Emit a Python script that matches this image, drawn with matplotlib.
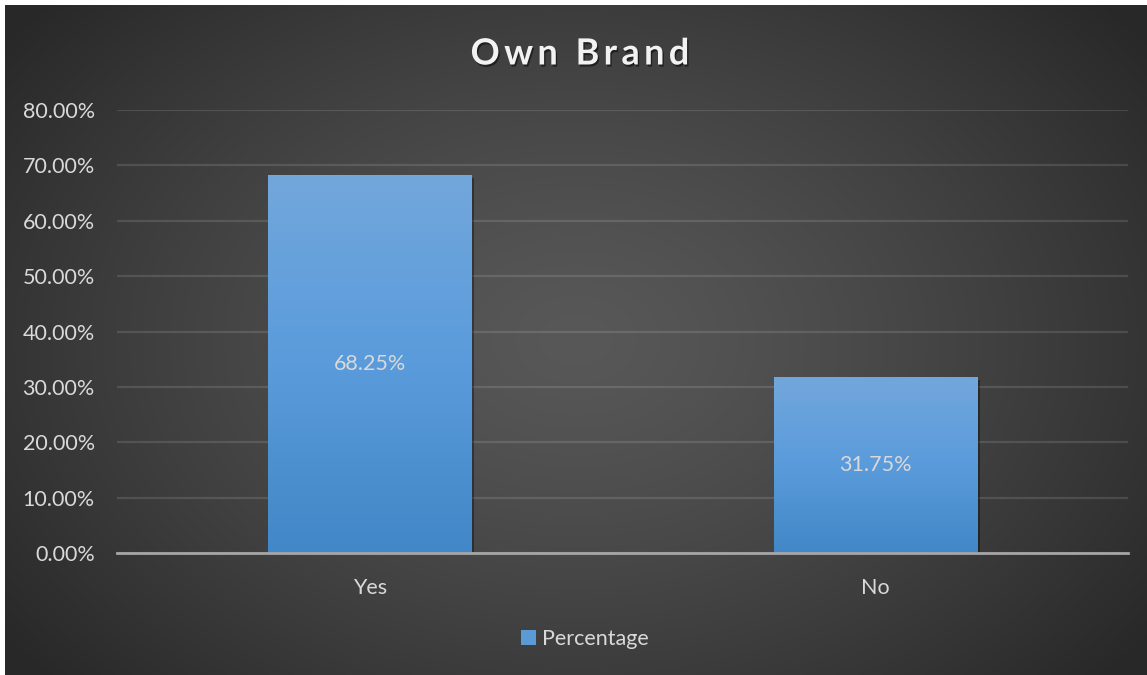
import numpy as np
import matplotlib
matplotlib.use("Agg")
import matplotlib.pyplot as plt
import matplotlib.patheffects as pe
from matplotlib.colors import LinearSegmentedColormap
from matplotlib.patches import Rectangle
from matplotlib.ticker import FuncFormatter

categories = ["Yes", "No"]
values = [0.6825, 0.3175]
series_name = "Percentage"
title = "Own Brand"
yticks = [0.0, 0.1, 0.2, 0.3, 0.4, 0.5, 0.6, 0.7, 0.8]

W, H = 1147, 675
plt.rcParams['font.family'] = ['Lato', 'DejaVu Sans']
fig = plt.figure(figsize=(W / 100, H / 100), dpi=100, facecolor='white')

# background radial gradient
bg = fig.add_axes([5 / W, 0, (W - 5) / W, (H - 5) / H])
bg.set_axis_off()
yy, xx = np.mgrid[0:1:400j, 0:1:700j]
r = np.sqrt(((xx - 0.5) / 0.62) ** 2 + ((yy - 0.5) / 0.75) ** 2)
r = np.clip(r, 0, 1)
shade = 0.345 - (0.345 - 0.16) * r ** 1.3
bg.imshow(np.dstack([shade, shade, shade]), aspect='auto', extent=[0, 1, 0, 1], interpolation='bicubic')
bg.set_xlim(0, 1)
bg.set_ylim(0, 1)

ax = fig.add_axes([117 / W, (H - 553) / H, (1128 - 117) / W, (553 - 110) / H])
ax.set_facecolor('none')
x = np.arange(len(categories))
bars = ax.bar(x, values, width=0.402, color='#5b9bd5', zorder=3, label=series_name,
              path_effects=[pe.SimplePatchShadow(offset=(2, -2), shadow_rgbFace='black', alpha=0.35), pe.Normal()])
grad_cmap = LinearSegmentedColormap.from_list('g', ['#4287c7', '#5a9bdb', '#72a7dc'])
grad = np.linspace(0, 1, 256).reshape(-1, 1)
for b in bars:
    x0, y0, w, h = b.get_x(), b.get_y(), b.get_width(), b.get_height()
    im = ax.imshow(grad, cmap=grad_cmap, aspect='auto', origin='lower',
                   extent=[x0, x0 + w, y0, y0 + h], zorder=4)
    im.set_clip_path(b)
for b, v in zip(bars, values):
    ax.text(b.get_x() + b.get_width() / 2, v / 2, f"{v * 100:.2f}%", ha='center', va='center',
            color='#d9d9d9', fontsize=15.5, zorder=6)

ax.set_xlim(-0.5, len(categories) - 0.5)
ax.set_ylim(0, 0.8)
ax.set_yticks(yticks)
ax.yaxis.set_major_formatter(FuncFormatter(lambda v, p: f"{v * 100:.2f}%"))
ax.set_xticks(x)
ax.set_xticklabels(categories)
ax.tick_params(axis='both', length=0, colors='#d9d9d9', labelsize=15.5)
ax.tick_params(axis='y', pad=16)
ax.tick_params(axis='x', pad=18)
ax.grid(axis='y', color='#ffffff', alpha=0.12, linewidth=1.6, zorder=1)
for s in ['top', 'right', 'left']:
    ax.spines[s].set_visible(False)
ax.spines['bottom'].set_color('#a6a6a6')
ax.spines['bottom'].set_linewidth(2)
ax.spines['bottom'].set_zorder(5)

leg = fig.legend(handles=[Rectangle((0, 0), 1, 1, facecolor='#5b9bd5')], labels=[series_name],
                 loc='center', bbox_to_anchor=(585 / W, 1 - 639 / H), frameon=False,
                 fontsize=15.5, labelcolor='#d9d9d9', handlelength=0.7, handleheight=0.7,
                 handletextpad=0.3)

# letter-spaced title
fig.canvas.draw()
renderer = fig.canvas.get_renderer()
chars = list(title)
spacing = 4.3
widths = []
tmp = []
for c in chars:
    t = fig.text(0, 0, c if c != ' ' else 'n', fontsize=26, fontweight='bold')
    bb = t.get_window_extent(renderer)
    widths.append(bb.width if c != ' ' else bb.width * 0.45)
    tmp.append(t)
for t in tmp:
    t.remove()
total = sum(widths) + spacing * (len(chars) - 1)
cx, cy = 580, H - 54
xpos = cx - total / 2
for c, w in zip(chars, widths):
    if c != ' ':
        fig.text(xpos / W, cy / H, c, fontsize=26, fontweight='bold', color='#f2f2f2',
                 ha='left', va='center',
                 path_effects=[pe.withSimplePatchShadow(offset=(1, -1.5), shadow_rgbFace='black', alpha=0.5)])
    xpos += w + spacing

fig.savefig('out.png', dpi=100, facecolor='white')
